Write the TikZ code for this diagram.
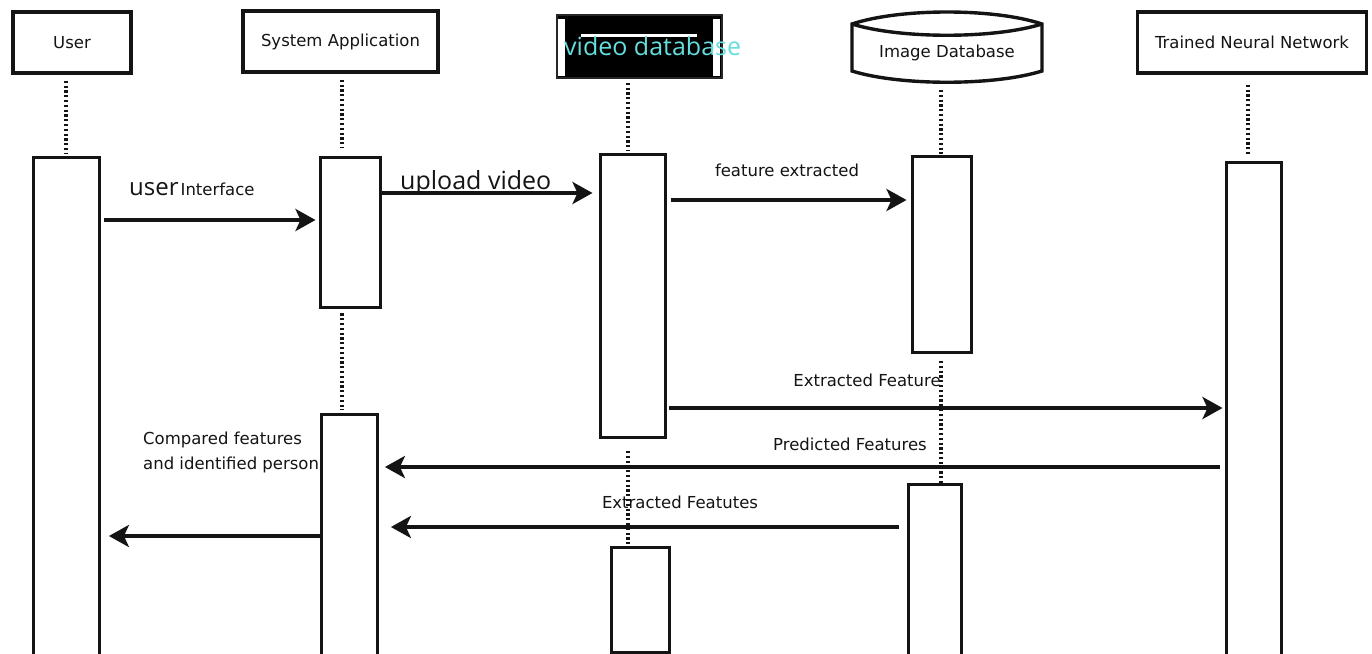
\documentclass[tikz,border=0pt]{standalone}
\usepackage{fontspec}
\setmainfont{DejaVu Sans}
\newfontfamily\uifont{Open Sans}
\usetikzlibrary{arrows.meta}
\definecolor{dbcyan}{RGB}{100,222,222}
\definecolor{ink}{RGB}{20,20,20}
\begin{document}
\begin{tikzpicture}[x=1pt,y=-1pt,
  lblfont/.style={font=\fontsize{16.5}{20}\selectfont},
  head/.style={draw=ink, line width=3.4pt, fill=white, inner sep=0pt, text=ink, lblfont},
  act/.style={draw=ink, line width=3.4pt, fill=white, inner sep=0pt, anchor=north west},
  life/.style={draw=ink, line width=3.6pt, dash pattern=on 2.2pt off 2.6pt},
  msg/.style={draw=ink, line width=3.6pt, -{Stealth[length=20pt,width=22pt,inset=5pt]}},
  lbl/.style={inner sep=0pt, text=ink, lblfont}]
\clip (0,0) rectangle (1372,653);
\fill[white] (0,0) rectangle (1372,653);

% ---- lifeline heads ----
\node[head, minimum width=118pt, minimum height=61pt] (user) at (72,42.5) {User};
\node[head, minimum width=195pt, minimum height=61pt] (sys) at (340.5,41.5) {System Application};
\node[head, minimum width=229pt, minimum height=61pt] (tnn) at (1252,42.5) {Trained Neural Network};

% video database: black box with white inner bars
\node[draw=black!85, line width=1.5pt, fill=black, inner sep=0pt,
      minimum width=165pt, minimum height=63pt] (vdb) at (639.5,46.5) {};
\fill[white] (558,19) rectangle (565,76);
\fill[white] (713,19) rectangle (720,76);
\draw[white, line width=3pt] (581,35) -- (697,35);
\node[inner sep=0pt, anchor=base west, text=dbcyan,
      font=\uifont\fontsize{25}{30}\selectfont] (vdbtext) at (564,55) {video database};

% image database: cylinder
\draw[draw=ink, line width=3.4pt, fill=white] (852,24) .. controls (900,8) and (994,8) .. (1042,24)
   -- (1042,71) .. controls (994,86) and (900,86) .. (852,71) -- cycle;
\draw[draw=ink, line width=3.4pt] (852,24) .. controls (900,39) and (994,39) .. (1042,24);
\node[lbl] (imgdb) at (947,53) {Image Database};
\coordinate (imgbase) at (947,82);

% ---- activation bars ----
\node[act, minimum width=66pt, minimum height=520pt] (ua) at (31.5,156) {};
\node[act, minimum width=60pt, minimum height=150pt] (s1) at (318.5,156) {};
\node[act, minimum width=56pt, minimum height=300pt] (s2) at (319.5,413) {};
\node[act, minimum width=65pt, minimum height=283pt] (v1) at (598.5,152.5) {};
\node[act, minimum width=58pt, minimum height=105pt] (v2) at (609.5,545.5) {};
\node[act, minimum width=59pt, minimum height=196pt] (i1) at (910.5,154.5) {};
\node[act, minimum width=53pt, minimum height=200pt] (i2) at (906.5,482.5) {};
\node[act, minimum width=55pt, minimum height=520pt] (t1) at (1224.5,160.5) {};

% ---- lifelines ----
\draw[life, shorten <=6pt, shorten >=3pt] (66,0 |- user.south) -- (66,0 |- ua.north);
\draw[life, shorten <=6pt, shorten >=8pt] (342,0 |- sys.south) -- (342,0 |- s1.north);
\draw[life, shorten <=4pt, shorten >=3pt] (342,0 |- s1.south) -- (342,0 |- s2.north);
\draw[life, shorten <=4pt, shorten >=2pt] (628,0 |- vdb.south) -- (628,0 |- v1.north);
\draw[life, shorten <=12pt, shorten >=0pt] (628,0 |- v1.south) -- (628,0 |- v2.north);
\draw[life, shorten <=8pt, shorten >=1pt] (941,0 |- imgbase) -- (941,0 |- i1.north);
\draw[life, shorten <=7pt, shorten >=0pt] (941,0 |- i1.south) -- (941,0 |- i2.north);
\draw[life, shorten <=10pt, shorten >=5pt] (1248,0 |- tnn.south) -- (1248,0 |- t1.north);

% ---- messages ----
\draw[msg, shorten <=3pt, shorten >=3pt] (ua.east |- 0,220) -- (s1.west |- 0,220);
\draw[msg, shorten >=6pt] (s1.east |- 0,193) -- (v1.west |- 0,193);
\draw[msg, shorten <=4pt, shorten >=4pt] (v1.east |- 0,200) -- (i1.west |- 0,200);
\draw[msg, shorten <=2pt, shorten >=2pt] (v1.east |- 0,408) -- (t1.west |- 0,408);
\draw[msg, shorten <=5pt, shorten >=6pt] (t1.west |- 0,467) -- (s2.east |- 0,467);
\draw[msg, shorten <=8pt, shorten >=12pt] (i2.west |- 0,527) -- (s2.east |- 0,527);
\draw[msg, shorten >=8pt] (s2.west |- 0,536) -- (ua.east |- 0,536);

% ---- message labels ----
\node[inner sep=0pt, anchor=base west, text=ink] (l1) at (129,195)
  {{\uifont\fontsize{24}{28}\selectfont user}\kern2pt{\fontsize{16.5}{20}\selectfont Interface}};
\node[inner sep=0pt, anchor=base west, text=ink, font=\uifont\fontsize{25}{30}\selectfont] (l2) at (400,189) {upload video};
\node[lbl] (l3) at (787,170) {feature extracted};
\node[lbl] (l4) at (867,380) {Extracted Feature};
\node[lbl] (l5) at (850,444.5) {Predicted Features};
\node[lbl] (l6) at (680,502.5) {Extracted Featutes};
\node[inner sep=0pt, anchor=north west, align=left, text=ink, font=\fontsize{16.5}{25.5}\selectfont] (l7) at (143,431.5)
  {Compared features\\and identified person};
\end{tikzpicture}
\end{document}
